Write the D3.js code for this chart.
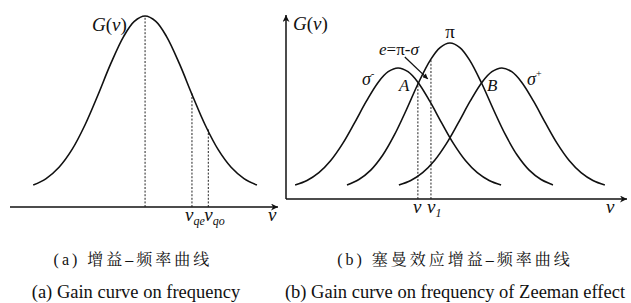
<!DOCTYPE html>
<html><head><meta charset="utf-8">
<script src="https://cdn.jsdelivr.net/npm/d3@7/dist/d3.min.js"></script>
<style>
body{margin:0;background:#fff;}
svg{display:block;}
text{font-family:"Liberation Serif","Times New Roman",Times,serif;fill:#111;}
.cn{font-family:"Liberation Serif","Times New Roman","Noto Serif CJK SC","Noto Sans CJK SC",serif;}
.it{font-style:italic;}
</style></head>
<body><svg id="c" width="631" height="303"></svg>
<script>
// ---- data ----
// sample offsets of one gain line shape (in line-width units) and gain values
const shapeOffsets = [-2.6,-2.3,-2.0,-1.7,-1.4,-1.1,-0.8,-0.5,-0.25,0,0.25,0.5,0.8,1.1,1.4,1.7,2.0,2.3,2.6];
const gainLeft  = [0.115,0.149,0.208,0.300,0.428,0.584,0.749,0.892,0.972,1.0,0.972,0.892,0.749,0.584,0.428,0.300,0.208,0.149,0.115];
const gainSigma = [0.09,0.119,0.169,0.247,0.355,0.488,0.627,0.749,0.816,0.84,0.816,0.749,0.627,0.488,0.355,0.247,0.169,0.119,0.09];
const gainPi    = [0.09,0.125,0.185,0.280,0.412,0.572,0.742,0.889,0.971,1.0,0.971,0.889,0.742,0.572,0.412,0.280,0.185,0.125,0.09];
// right panel Zeeman components
const zeemanNames   = ["σ-","π","σ+"];
const zeemanCenters = [-1.31, 0, 1.31];
// marker lines (frequency, gain at top)
const leftMarkNames = ["ν0","νqe","νqo"];
const leftMarkX     = [0, 1.09, 1.47];
const leftMarkG     = [1.0, 0.60, 0.41];
const rightMarkNames = ["ν","ν1"];
const rightMarkX     = [-0.81, -0.48];
const rightMarkG     = [0.745, 0.895];
const captionsCN = ["(a) 增益–频率曲线","(b) 塞曼效应增益–频率曲线"];
const captionsEN = ["(a) Gain curve on frequency","(b) Gain curve on frequency of Zeeman effect"];

const svg = d3.select("#c");
const defs = svg.append("defs");
defs.append("marker").attr("id","ah").attr("viewBox","0 0 10 10").attr("refX",10).attr("refY",5)
  .attr("markerWidth",9).attr("markerHeight",7).attr("markerUnits","userSpaceOnUse").attr("orient","auto")
  .append("path").attr("d","M0,0 L10,5 L0,10 L3,5 Z").attr("fill","#111");
defs.append("marker").attr("id","ah2").attr("viewBox","0 0 10 10").attr("refX",10).attr("refY",5)
  .attr("markerWidth",6).attr("markerHeight",5).attr("markerUnits","userSpaceOnUse").attr("orient","auto")
  .append("path").attr("d","M0,0 L10,5 L0,10 Z").attr("fill","#111");

// ---- left panel ----
const xL = d3.scaleLinear().domain([-3.14, 3.09]).range([10, 278]);
const yL = d3.scaleLinear().domain([0, 1]).range([207, 16]);
const line = (xs, ys, c) => d3.line().x((d,i)=>xs(c+shapeOffsets[i])).y(d=>ys(d)).curve(d3.curveCatmullRom);

const gL = svg.append("g");
gL.append("line").attr("x1",xL.range()[0]).attr("x2",xL.range()[1]).attr("y1",yL(0)).attr("y2",yL(0))
  .attr("stroke","#111").attr("stroke-width",1.5).attr("marker-end","url(#ah)");
gL.selectAll("line.mk").data(leftMarkX).join("line").attr("class","mk")
  .attr("x1",d=>xL(d)).attr("x2",d=>xL(d)).attr("y1",yL(0)).attr("y2",(d,i)=>yL(leftMarkG[i]))
  .attr("stroke","#222").attr("stroke-width",1).attr("stroke-dasharray","2,1.6");
gL.append("path").attr("d",line(xL,yL,0)(gainLeft)).attr("fill","none").attr("stroke","#111").attr("stroke-width",1.6);

gL.append("text").attr("x",92).attr("y",31).attr("font-size",19)
  .html('<tspan class="it">G</tspan>(<tspan class="it">ν</tspan>)');
const nuSub = (g, x, y, sub) => g.append("text").attr("x",x).attr("y",y).attr("font-size",19)
  .html('<tspan class="it">ν</tspan>' + (sub ? '<tspan class="it" font-size="12" dy="4">'+sub+'</tspan>' : ''));
nuSub(gL, xL(leftMarkX[1])-7, 221, "qe");
nuSub(gL, xL(leftMarkX[2])-4, 221, "qo");
nuSub(gL, 268, 221, "");

// ---- right panel ----
const xR = d3.scaleLinear().domain([-4.14, 4.47]).range([286, 627]);
const yR = d3.scaleLinear().domain([0, 1]).range([199, 43]);
const gR = svg.append("g");
gR.append("line").attr("x1",xR.range()[0]).attr("x2",xR.range()[1]).attr("y1",yR(0)).attr("y2",yR(0))
  .attr("stroke","#111").attr("stroke-width",1.5).attr("marker-end","url(#ah)");
gR.append("line").attr("x1",xR.range()[0]).attr("x2",xR.range()[0]).attr("y1",yR(0)).attr("y2",15)
  .attr("stroke","#111").attr("stroke-width",1.5).attr("marker-end","url(#ah)");
gR.selectAll("line.mk").data(rightMarkX).join("line").attr("class","mk")
  .attr("x1",d=>xR(d)).attr("x2",d=>xR(d)).attr("y1",yR(0)).attr("y2",(d,i)=>yR(rightMarkG[i]))
  .attr("stroke","#222").attr("stroke-width",1).attr("stroke-dasharray","2,1.6");
zeemanNames.forEach((n,i)=>{
  const vals = n === "π" ? gainPi : gainSigma;
  gR.append("path").attr("d",line(xR,yR,zeemanCenters[i])(vals)).attr("fill","none")
    .attr("stroke","#111").attr("stroke-width",1.6);
});
// e = π - σ arrow
gR.append("line").attr("x1",xR(-1.14)).attr("y1",yR(0.91)).attr("x2",xR(-0.56)).attr("y2",yR(0.77))
  .attr("stroke","#111").attr("stroke-width",1.3).attr("marker-end","url(#ah2)");

gR.append("text").attr("x",293).attr("y",30).attr("font-size",19)
  .html('<tspan class="it">G</tspan>(<tspan class="it">ν</tspan>)');
gR.append("text").attr("x",xR(0)).attr("y",38).attr("font-size",19).attr("text-anchor","middle").text("π");
gR.append("text").attr("x",379).attr("y",55).attr("font-size",17)
  .html('<tspan class="it">e</tspan>=π-<tspan class="it">σ</tspan>');
gR.append("text").attr("x",362).attr("y",85).attr("font-size",18)
  .html('<tspan class="it">σ</tspan><tspan font-size="10" dy="-8">-</tspan>');
gR.append("text").attr("x",527).attr("y",85).attr("font-size",18)
  .html('<tspan class="it">σ</tspan><tspan font-size="10" dy="-8">+</tspan>');
gR.append("text").attr("x",399).attr("y",91).attr("font-size",17).attr("class","it").text("A");
gR.append("text").attr("x",487).attr("y",91).attr("font-size",17).attr("class","it").text("B");
nuSub(gR, xR(rightMarkX[0])-5, 213, "");
nuSub(gR, xR(rightMarkX[1])-4, 213, "1");
nuSub(gR, 606, 213, "");

// ---- captions ----
svg.selectAll("text.cn").data(captionsCN).join("text").attr("class","cn")
  .attr("x",(d,i)=>[133,455][i]).attr("y",265).attr("font-size",16).attr("letter-spacing",3)
  .attr("text-anchor","middle").text(d=>d);
svg.selectAll("text.en").data(captionsEN).join("text").attr("class","en")
  .attr("x",(d,i)=>[136,455][i]).attr("y",298).attr("font-size",18.5).attr("text-anchor","middle").text(d=>d);
</script></body></html>
